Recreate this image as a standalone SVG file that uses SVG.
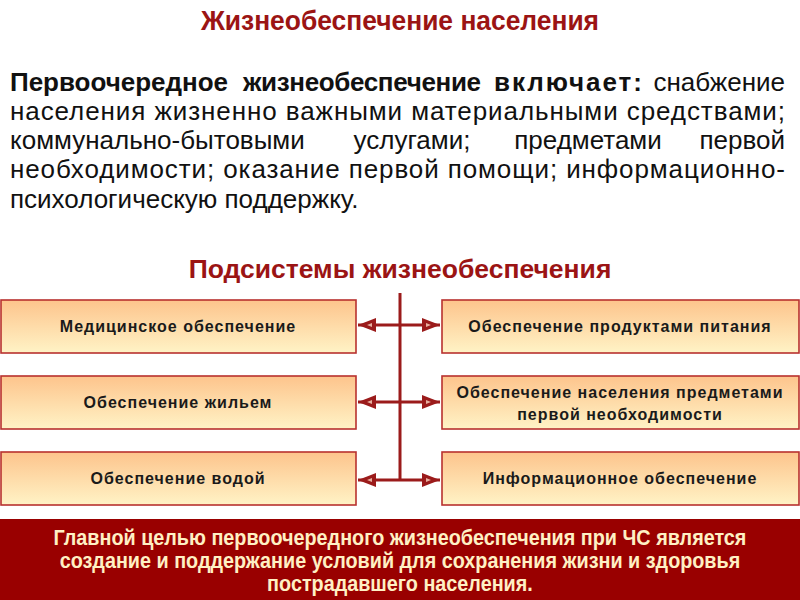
<svg xmlns="http://www.w3.org/2000/svg" width="800" height="600" viewBox="0 0 800 600">
<style>
.title{font-family:"Liberation Sans Narrow","Liberation Sans",Arial,sans-serif;font-weight:bold;fill:#9B1414;}
.sub{font-family:"Liberation Sans",Arial,sans-serif;font-weight:bold;fill:#9B1414;font-size:26.5px;}
.p{font-family:"Liberation Sans",Arial,sans-serif;font-size:26px;fill:#111;}
.b{font-weight:bold;}
.box{fill:url(#g);stroke:#B8312F;stroke-width:1.6;}
.lbl{font-family:"Liberation Sans",Arial,sans-serif;font-weight:bold;font-size:16px;fill:#1a1a1a;text-anchor:middle;letter-spacing:1px;}
.con{stroke:#9B1B1B;stroke-width:3;fill:none;}
.ban{font-family:"Liberation Sans Narrow","Liberation Sans",Arial,sans-serif;font-weight:bold;font-size:22px;fill:#FFF0C4;text-anchor:middle;}
</style>
<defs>
<linearGradient id="g" x1="0" y1="0" x2="0" y2="1">
<stop offset="0" stop-color="#FDC48C"/>
<stop offset="1" stop-color="#FFF3C6"/>
</linearGradient>
<marker id="ah" markerWidth="20" markerHeight="14" refX="18" refY="7" orient="auto" markerUnits="userSpaceOnUse">
<path d="M0,0 L18,7 L0,14 Z" fill="#9B1B1B"/>
<path d="M4,5 L9,7 L4,9 Z" fill="#E8B0A0"/>
</marker>
</defs>
<rect width="800" height="600" fill="#fff"/>
<text class="title" x="424.2" y="30" text-anchor="middle" font-size="28" transform="scale(0.943,1)">Жизнеобеспечение населения</text>

<g id="paragraph" class="p">
<text y="91" class="b" x="10" textLength="218" lengthAdjust="spacing">Первоочередное</text>
<text y="91" class="b" x="243" textLength="238" lengthAdjust="spacing">жизнеобеспечение</text>
<text y="91" class="b" x="494" textLength="148" lengthAdjust="spacing">включает:</text>
<text y="91" text-anchor="end" x="785">снабжение</text>

<text y="120" x="10" textLength="775" lengthAdjust="spacing">населения жизненно важными материальными средствами;</text>

<text y="149" x="10">коммунально-бытовыми</text>
<text y="149" x="412" text-anchor="middle">услугами;</text>
<text y="149" x="588" text-anchor="middle">предметами</text>
<text y="149" x="785" text-anchor="end">первой</text>

<text y="178" x="10" textLength="775" lengthAdjust="spacing">необходимости; оказание первой помощи; информационно-</text>

<text y="208" x="10">психологическую поддержку.</text>
</g>

<text class="sub" x="400" y="278" text-anchor="middle">Подсистемы жизнеобеспечения</text>

<g id="connectors">
<line class="con" x1="400" y1="293" x2="400" y2="481"/>
<line class="con" x1="400" y1="325" x2="358" y2="325" marker-end="url(#ah)"/>
<line class="con" x1="400" y1="325" x2="440" y2="325" marker-end="url(#ah)"/>
<line class="con" x1="400" y1="402" x2="358" y2="402" marker-end="url(#ah)"/>
<line class="con" x1="400" y1="402" x2="440" y2="402" marker-end="url(#ah)"/>
<line class="con" x1="400" y1="480" x2="358" y2="480" marker-end="url(#ah)"/>
<line class="con" x1="400" y1="480" x2="440" y2="480" marker-end="url(#ah)"/>
</g>

<g id="n1"><rect class="box" x="1" y="300" width="355" height="53"/><text class="lbl" x="178" y="332">Медицинское обеспечение</text></g>
<g id="n2"><rect class="box" x="1" y="376" width="355" height="53"/><text class="lbl" x="178" y="408">Обеспечение жильем</text></g>
<g id="n3"><rect class="box" x="1" y="452" width="355" height="53"/><text class="lbl" x="178" y="484">Обеспечение водой</text></g>
<g id="n4"><rect class="box" x="442" y="300" width="357" height="53"/><text class="lbl" x="620" y="332">Обеспечение продуктами питания</text></g>
<g id="n5"><rect class="box" x="442" y="376" width="357" height="53"/><text class="lbl" x="620" y="398">Обеспечение населения предметами</text><text class="lbl" x="620" y="420">первой необходимости</text></g>
<g id="n6"><rect class="box" x="442" y="452" width="357" height="53"/><text class="lbl" x="620" y="484">Информационное обеспечение</text></g>

<g id="banner">
<rect x="0" y="519" width="800" height="81" fill="#990000"/>
<g transform="scale(0.9,1)">
<text class="ban" x="444.4" y="545">Главной целью первоочередного жизнеобеспечения при ЧС является</text>
<text class="ban" x="444.4" y="568">создание и поддержание условий для сохранения жизни и здоровья</text>
<text class="ban" x="444.4" y="591">пострадавшего населения.</text>
</g>
</g>
</svg>
